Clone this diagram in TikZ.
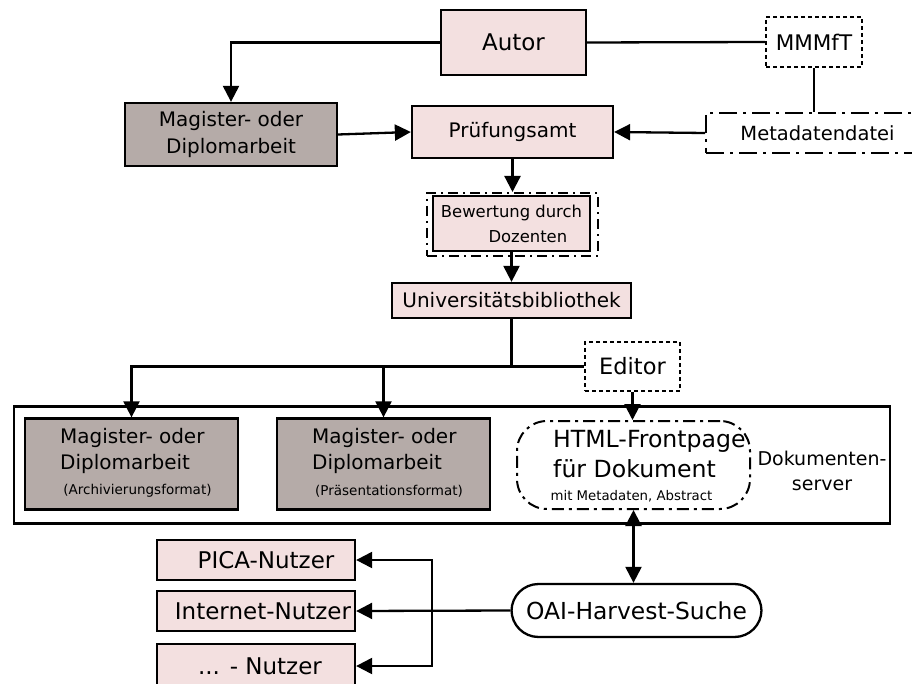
\documentclass[tikz,border=0pt]{standalone}
\usepackage{fontspec}
\setmainfont{DejaVu Sans}
\usetikzlibrary{arrows.meta}
\definecolor{pinkfill}{RGB}{243,224,224}
\definecolor{grayfill}{RGB}{181,171,168}
\tikzset{
  box/.style={draw, line width=2.3pt, inner sep=0pt, align=center},
  pinkbox/.style={box, fill=pinkfill},
  graybox/.style={box, fill=grayfill},
  dotbox/.style={draw, line width=1.8pt, dash pattern=on 4pt off 3pt, inner sep=0pt, align=center},
  dashdotbox/.style={draw, line width=2pt, dash pattern=on 18pt off 6pt on 3pt off 6pt, inner sep=0pt, align=center},
  conn/.style={line width=2.3pt},
  arr/.style={conn, -{Triangle[length=16pt,width=16pt]}},
  darr/.style={conn, {Triangle[length=16pt,width=16pt]}-{Triangle[length=16pt,width=16pt]}},
  lbl/.style={inner sep=0pt, align=center}
}
\begin{document}
\begin{tikzpicture}[x=1pt,y=-1pt]
\useasboundingbox (0,0) rectangle (912,684);
% top
\node[pinkbox, minimum width=145pt, minimum height=65pt, font=\fontsize{23}{27}\selectfont] (autor) at (513.5,42.5) {Autor};
\node[dotbox, minimum width=96pt, minimum height=50pt, font=\fontsize{21.5}{26}\selectfont] (mmmft) at (814,42) {MMMfT};
\node[dashdotbox, minimum width=210pt, minimum height=40pt, font=\fontsize{19.5}{23}\selectfont] (meta) at (811,133) {\hspace*{13pt}Metadatendatei};
\node[pinkbox, minimum width=201pt, minimum height=52pt, font=\fontsize{20}{24}\selectfont] (pruef) at (512.5,132) {Prüfungsamt};
\node[graybox, minimum width=212pt, minimum height=63pt, font=\fontsize{20}{27}\selectfont] (mag1) at (231,134.5) {Magister- oder\\Diplomarbeit};
% Bewertung
\node[draw, line width=2pt, dash pattern=on 10pt off 5pt on 2pt off 5pt, minimum width=171pt, minimum height=63pt, inner sep=0pt] (bewout) at (512.5,224.5) {};
\node[pinkbox, minimum width=157pt, minimum height=55pt, align=left, font=\fontsize{16.4}{25}\selectfont] (bew) at (511.5,223.5) {Bewertung durch\\\hspace*{2.9em}Dozenten};
\node[pinkbox, minimum width=239pt, minimum height=35pt, font=\fontsize{20}{24}\selectfont] (ub) at (511.5,300.5) {Universitätsbibliothek};
\node[dotbox, minimum width=95pt, minimum height=49pt, font=\fontsize{22.5}{26}\selectfont] (editor) at (632.5,366.5) {Editor};
% server
\node[box, minimum width=876pt, minimum height=117pt] (server) at (452,465) {};
\node[graybox, minimum width=213pt, minimum height=91pt] (mag2) at (131.5,464) {};
\node[lbl, align=left, anchor=west, font=\fontsize{20}{26}\selectfont] (mag2t) at (60,451) {Magister- oder\\Diplomarbeit};
\node[lbl, font=\fontsize{13.5}{15}\selectfont] (mag2s) at (137.5,491) {(Archivierungsformat)};
\node[graybox, minimum width=213pt, minimum height=91pt] (mag3) at (383.5,464) {};
\node[lbl, align=left, anchor=west, font=\fontsize{20}{26}\selectfont] (mag3t) at (312,451) {Magister- oder\\Diplomarbeit};
\node[lbl, font=\fontsize{13.5}{15}\selectfont] (mag3s) at (389,491) {(Präsentationsformat)};
\node[draw, line width=2pt, dash pattern=on 12pt off 5pt on 3pt off 5pt, rounded corners=30pt, minimum width=233pt, minimum height=88pt, inner sep=0pt] (html) at (633.5,465) {};
\node[lbl, align=left, anchor=north west, font=\fontsize{23.6}{30}\selectfont] (htmlt) at (553,430) {HTML-Frontpage\\für Dokument};
\node[lbl, font=\fontsize{13.3}{15}\selectfont] (htmls) at (631.5,496) {mit Metadaten, Abstract};
\node[lbl, font=\fontsize{19}{25}\selectfont] (servt) at (822,471) {Dokumenten-\\server};
% bottom
\node[draw, line width=2.3pt, rounded corners=27pt, minimum width=250pt, minimum height=53pt, inner sep=0pt, font=\fontsize{23.4}{27}\selectfont] (oai) at (636.5,610.5) {OAI-Harvest-Suche};
\node[pinkbox, minimum width=198pt, minimum height=40pt, font=\fontsize{23}{27}\selectfont] (pica) at (256,560) {\hspace*{20pt}PICA-Nutzer};
\node[pinkbox, minimum width=198pt, minimum height=40pt, font=\fontsize{23}{27}\selectfont] (inet) at (256,611) {\hspace*{14pt}Internet-Nutzer};
\node[pinkbox, minimum width=198pt, minimum height=44pt, font=\fontsize{23}{27}\selectfont] (dots) at (256,666) {\hspace*{8pt}... - Nutzer};
% connectors
\draw[arr] (autor.west) -| (mag1.north);
\draw[conn] (autor.east) -- (mmmft.west);
\draw[conn] (mmmft.south) -- (mmmft.south |- meta.north);
\draw[arr] (meta.west) -- (pruef.east);
\draw[arr] (mag1.east) -- (pruef.west);
\draw[arr] (pruef.south) -- (bewout.north);
\draw[arr] (bew.south) -- (ub.north);
\coordinate (j) at (ub.south |- editor.west);
\draw[conn] (ub.south) -- (j) -- (editor.west);
\draw[arr] (j) -| (mag2.north);
\draw[arr] (j -| mag3.north) -- (mag3.north);
\draw[arr] (editor.south) -- (editor.south |- html.north);
\draw[darr] (html.south) -- (html.south |- oai.north);
\draw[arr] (oai.west) -- (inet.east);
\coordinate (k) at (432,610);
\draw[arr] (k) |- (pica.east);
\draw[arr] (k) |- (dots.east);
\end{tikzpicture}
\end{document}
